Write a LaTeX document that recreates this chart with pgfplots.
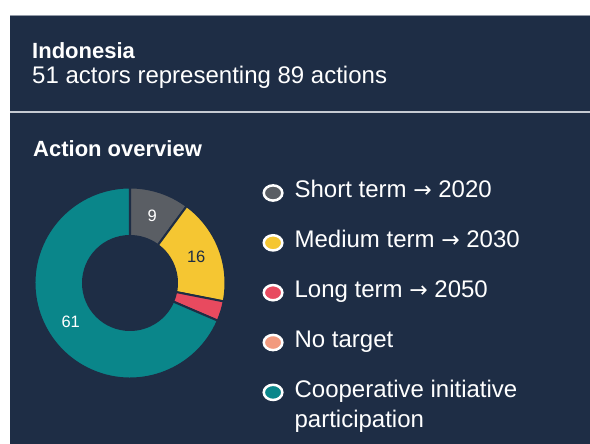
\documentclass[border=0pt]{standalone}
\usepackage{fontspec}
\setmainfont{Liberation Sans}
\newfontfamily\arrowfont{DejaVu Sans}
\usepackage{pgfplots}
\usepackage{pgfplotstable}
\pgfplotsset{compat=1.18}

\definecolor{bg}{HTML}{1E2D45}
\definecolor{sepline}{HTML}{C5CAD2}
\definecolor{cgray}{HTML}{5A5E64}
\definecolor{cyellow}{HTML}{F5C632}
\definecolor{cred}{HTML}{E84A5F}
\definecolor{csalmon}{HTML}{F29A7E}
\definecolor{cteal}{HTML}{0A868A}
\definecolor{cdark}{HTML}{1E2D45}

% actions per target category
\pgfplotstableread{
value col     lab
9     cgray   white
16    cyellow cdark
3     cred    none
0     csalmon none
61    cteal   white
}\actions

\def\Rout{95.5}
\def\Rin{47}
\def\Rlab{71}
\newcommand\arr{{\arrowfont\fontsize{22}{22}\selectfont →}}

\pgfplotsset{mk/.style={legend image code/.code={
  \draw[fill=#1,draw=white,line width=2.5pt] (10pt,5pt) ellipse[x radius=9.3pt, y radius=7.6pt];}}}

\begin{document}
\begin{tikzpicture}[x=1pt,y=1pt]
\useasboundingbox (0,0) rectangle (590,444);
\fill[white] (0,0) rectangle (600,450);
\fill[bg] (10,-5) rectangle (600,429);
\fill[sepline!70!bg] (10,427.5) rectangle (600,429);
\fill[sepline] (10,330.5) rectangle (600,333);

\begin{axis}[at={(130pt,161pt)}, anchor=origin,
  x=1pt, y=1pt, xmin=-94.5, xmax=94.5, ymin=-94.5, ymax=94.5,
  hide axis, clip=false,
  legend style={at={(1.2010,1.0503)}, anchor=north west, draw=none, fill=none,
    inner sep=0pt, outer sep=0pt, row sep=27pt, column sep=9pt,
    font=\fontsize{24}{30}\selectfont, text=white,
    cells={anchor=base west, inner sep=0pt, text height=17pt, text depth=5pt, text=white}}]
\addlegendimage{mk=cgray}
\addlegendentry{Short term \arr\ 2020}
\addlegendimage{mk=cyellow}
\addlegendentry{Medium term \arr\ 2030}
\addlegendimage{mk=cred}
\addlegendentry{Long term \arr\ 2050}
\addlegendimage{mk=csalmon}
\addlegendentry{No target}
\addlegendimage{mk=cteal}
\addlegendentry{\parbox[t]{8cm}{Cooperative initiative\\participation}}

\pgfplotsextra{
  \pgfplotstablegetrowsof{\actions}
  \pgfmathtruncatemacro\nrows{\pgfplotsretval-1}
  \gdef\sumall{0}
  \foreach \k in {0,...,\nrows}{
    \pgfplotstablegetelem{\k}{value}\of\actions
    \pgfmathsetmacro\tmpsum{\sumall+\pgfplotsretval}\xdef\sumall{\tmpsum}
  }
  \gdef\cumang{90}
  \def\none{none}
  \foreach \k in {0,...,\nrows}{
    \pgfplotstablegetelem{\k}{value}\of\actions \edef\sval{\pgfplotsretval}
    \pgfplotstablegetelem{\k}{col}\of\actions \edef\scol{\pgfplotsretval}
    \pgfplotstablegetelem{\k}{lab}\of\actions \edef\slab{\pgfplotsretval}
    \pgfmathsetmacro\sa{\cumang}
    \pgfmathsetmacro\sb{\cumang-\sval/\sumall*360}
    \pgfmathsetmacro\sm{(\sa+\sb)/2}
    \ifdim\sval pt>0pt
      \fill[fill=\scol, draw=bg, line width=2pt]
        (axis cs:{\Rout*cos(\sa)},{\Rout*sin(\sa)})
        arc[start angle=\sa, end angle=\sb, radius=\Rout pt]
        -- (axis cs:{\Rin*cos(\sb)},{\Rin*sin(\sb)})
        arc[start angle=\sb, end angle=\sa, radius=\Rin pt] -- cycle;
    \fi
    \ifx\slab\none\else
      \node[text=\slab, font=\fontsize{16.5}{16.5}\selectfont, inner sep=0pt]
        at (axis cs:{\Rlab*cos(\sm)},{\Rlab*sin(\sm)}) {\sval};
    \fi
    \xdef\cumang{\sb}
  }
}
\end{axis}

\node[anchor=base west, inner sep=0pt, text=white, font=\bfseries\fontsize{22}{22}\selectfont] at (32,385) {Indonesia};
\node[anchor=base west, inner sep=0pt, text=white, font=\fontsize{24}{24}\selectfont] at (32,360) {51 actors representing 89 actions};
\node[anchor=base west, inner sep=0pt, text=white, font=\bfseries\fontsize{22}{22}\selectfont] at (33,287) {Action overview};
\end{tikzpicture}
\end{document}
